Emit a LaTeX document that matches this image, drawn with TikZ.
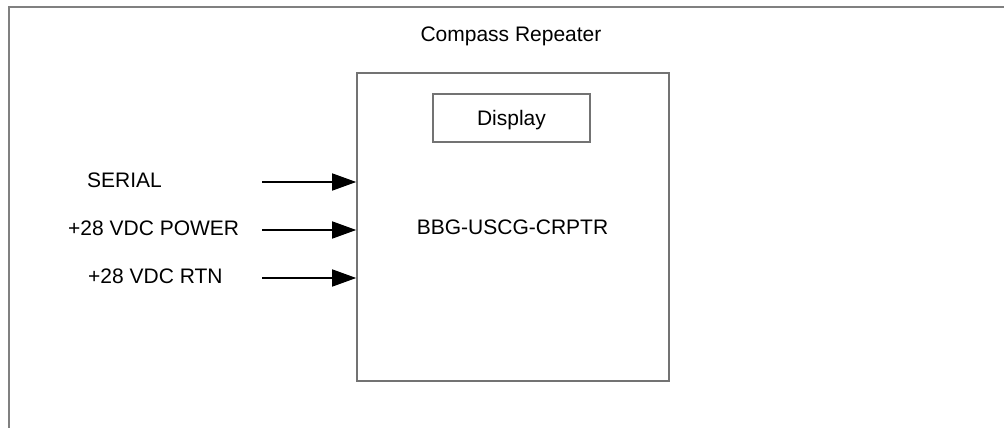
\documentclass[tikz,border=0pt]{standalone}
\usepackage{fontspec}
\setmainfont{Liberation Sans}
\usetikzlibrary{arrows.meta}
\begin{document}
\begin{tikzpicture}[x=1pt,y=-1pt,
  txt/.style={inner sep=0pt,font=\fontsize{21}{25}\selectfont},
  box/.style={draw=gray!90!black,line width=1.6pt,inner sep=0pt},
  frame/.style={draw=gray,line width=2pt},
  sig/.style={draw=black,line width=1.5pt,-{Triangle[length=24pt,width=17pt]}}]
\useasboundingbox (0,0) rectangle (1004,428);
\fill[white] (0,0) rectangle (1004,428);
\draw[frame] (9,428) -- (9,7) -- (1004,7);
\node[txt,anchor=base] (title) at (511,42) {Compass Repeater};
\node[box,minimum width=312pt,minimum height=308pt] (main) at (513,227) {};
\node[box,line width=1.3pt,minimum width=157pt,minimum height=48pt] (disp) at (511.5,118) {};
\node[txt,anchor=base] (disptxt) at (511.5,125) {Display};
\node[txt,anchor=base] (maintxt) at (512.5,234) {BBG-USCG-CRPTR};
\node[txt,anchor=base west] (l1) at (87,187) {SERIAL};
\node[txt,anchor=base west] (l2) at (68,235) {+28 VDC POWER};
\node[txt,anchor=base west] (l3) at (88,283) {+28 VDC RTN};
\coordinate (s1) at (262,182);
\coordinate (s2) at (262,230);
\coordinate (s3) at (262,278);
\draw[sig] (s1) -- (main.west |- s1);
\draw[sig] (s2) -- (main.west |- s2);
\draw[sig] (s3) -- (main.west |- s3);
\end{tikzpicture}
\end{document}
